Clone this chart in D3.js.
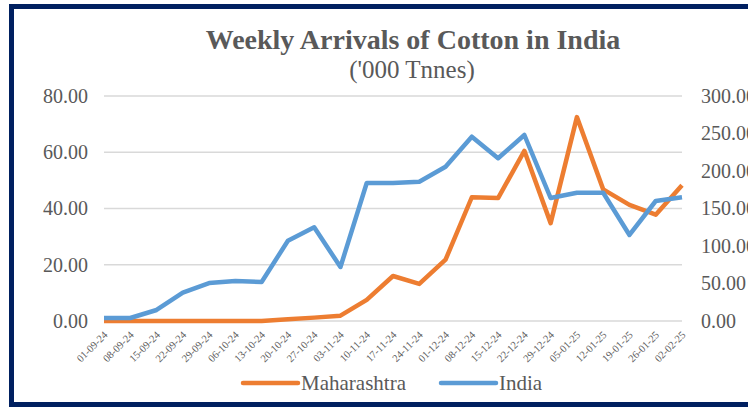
<!DOCTYPE html>
<html>
<head>
<meta charset="utf-8">
<script src="https://d3js.org/d3.v7.min.js"></script>
<style>
  body { margin: 0; background: #fff; }
  svg { display: block; }
</style>
</head>
<body>
<svg width="748" height="407"></svg>
<script>
// weeks (x categories)
var weeks = ["01-09-24","08-09-24","15-09-24","22-09-24","29-09-24","06-10-24","13-10-24",
  "20-10-24","27-10-24","03-11-24","10-11-24","17-11-24","24-11-24","01-12-24","08-12-24",
  "15-12-24","22-12-24","29-12-24","05-01-25","12-01-25","19-01-25","26-01-25","02-02-25"];
// Maharashtra, left axis
var maharashtra = [0,0,0,0,0,0,0,0.6,1.2,1.9,7.5,16,13.2,21.8,44,43.7,60.5,34.8,72.5,46.8,41.3,37.8,48.3];
// India, right axis
var india = [4,4,14.7,37.8,50.6,53.3,52,107,125,72,184,184,185.7,205.7,245.7,217,248,164,171,171,114.7,160,165];
var leftTicks = [0,20,40,60,80];
var rightTicks = [0,50,100,150,200,250,300];

var FONT = "Liberation Serif";
var GREY = "#595959";
var svg = d3.select("svg");

// outer frame
svg.append("rect").attr("x", 11.5).attr("y", 6.5).attr("width", 760).attr("height", 398)
  .attr("fill", "none").attr("stroke", "#002060").attr("stroke-width", 5);

// titles
svg.append("text").attr("x", 413).attr("y", 49).attr("text-anchor", "middle")
  .attr("font-family", FONT).attr("fill", GREY)
  .attr("font-size", 28).attr("font-weight", "bold").text("Weekly Arrivals of Cotton in India");
svg.append("text").attr("x", 412).attr("y", 78).attr("text-anchor", "middle")
  .attr("font-family", FONT).attr("fill", GREY)
  .attr("font-size", 25).text("('000 Tnnes)");

// scales
var x = d3.scalePoint().domain(weeks).range([104, 682]);
var yL = d3.scaleLinear().domain([0, 80]).range([321, 96]);
var yR = d3.scaleLinear().domain([0, 300]).range([321, 96]);

// grid
svg.append("g").selectAll("line").data(leftTicks).enter().append("line")
  .attr("x1", 104).attr("x2", 682)
  .attr("y1", function(d) { return yL(d); }).attr("y2", function(d) { return yL(d); })
  .attr("stroke", "#d9d9d9").attr("stroke-width", 1.3);

// left axis labels
var axL = svg.append("g").attr("transform", "translate(88,0)")
  .call(d3.axisLeft(yL).tickValues(leftTicks).tickFormat(d3.format(".2f")).tickSize(0));
axL.select(".domain").remove();
axL.selectAll("text").attr("x", 0).attr("font-size", 20).attr("fill", GREY)
  .attr("font-family", FONT);

// right axis labels
var axR = svg.append("g").attr("transform", "translate(701,0)")
  .call(d3.axisRight(yR).tickValues(rightTicks).tickFormat(d3.format(".2f")).tickSize(0));
axR.select(".domain").remove();
axR.selectAll("text").attr("x", 0).attr("font-size", 20).attr("fill", GREY)
  .attr("font-family", FONT);

// x labels
var axX = svg.append("g").attr("transform", "translate(0,321)")
  .call(d3.axisBottom(x).tickSize(0));
axX.select(".domain").remove();
axX.selectAll("text")
  .attr("font-size", 10.5).attr("fill", GREY).attr("font-family", FONT)
  .attr("text-anchor", "end").attr("dy", "0.35em")
  .attr("transform", "translate(1,12) rotate(-45)").attr("y", 0).attr("x", 0);

// lines
var lineL = d3.line().x(function(d, i) { return x(weeks[i]); }).y(function(d) { return yL(d); });
var lineR = d3.line().x(function(d, i) { return x(weeks[i]); }).y(function(d) { return yR(d); });

svg.append("path").datum(maharashtra).attr("d", lineL)
  .attr("fill", "none").attr("stroke", "#ed7d31").attr("stroke-width", 4.5).attr("stroke-linejoin", "round");
svg.append("path").datum(india).attr("d", lineR)
  .attr("fill", "none").attr("stroke", "#5b9bd5").attr("stroke-width", 4.5).attr("stroke-linejoin", "round");

// legend
var legend = [{name: "Maharashtra", color: "#ed7d31", x: 243}, {name: "India", color: "#5b9bd5", x: 441}];
var lg = svg.append("g").selectAll("g").data(legend).enter().append("g");
lg.append("line").attr("x1", function(d) { return d.x; }).attr("x2", function(d) { return d.x + 55; })
  .attr("y1", 383).attr("y2", 383).attr("stroke", function(d) { return d.color; })
  .attr("stroke-width", 4.5).attr("stroke-linecap", "round");
lg.append("text").attr("x", function(d) { return d.x + 58; }).attr("y", 390)
  .attr("font-family", FONT).attr("fill", GREY)
  .attr("font-size", 21).text(function(d) { return d.name; });
</script>
</body>
</html>
